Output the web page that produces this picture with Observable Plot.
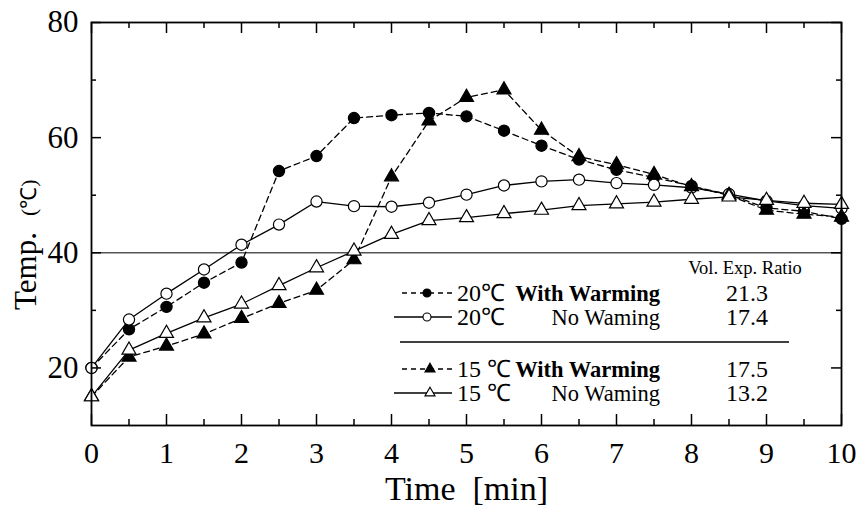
<!DOCTYPE html>
<html>
<head>
<meta charset="utf-8">
<script src="https://cdn.jsdelivr.net/npm/d3@7"></script>
<script src="https://cdn.jsdelivr.net/npm/@observablehq/plot@0.6"></script>
<style>
  html, body { margin: 0; padding: 0; background: #fff; }
  #chart { width: 859px; height: 518px; }
</style>
</head>
<body>
<div id="chart"></div>
<script>
// ---- data ----
const time = [0, 0.5, 1, 1.5, 2, 2.5, 3, 3.5, 4, 4.5, 5, 5.5, 6, 6.5, 7, 7.5, 8, 8.5, 9, 9.5, 10];
const warm20 = [20, 26.7, 30.6, 34.8, 38.3, 54.2, 56.8, 63.4, 63.9, 64.3, 63.7, 61.2, 58.6, 56.2, 54.4, 53.1, 51.6, 50.1, 47.8, 47.2, 45.9];
const noWarm20 = [20, 28.4, 32.9, 37.1, 41.4, 44.9, 48.9, 48.1, 48.0, 48.7, 50.1, 51.7, 52.4, 52.7, 52.1, 51.8, 51.3, 50.2, 49.0, 48.2, 47.7];
const warm15 = [15, 21.9, 23.8, 25.9, 28.6, 31.2, 33.5, 38.8, 53.2, 62.9, 67.0, 68.3, 61.3, 56.7, 55.3, 53.6, 51.5, 50.0, 47.4, 46.7, 46.2];
const noWarm15 = [15, 23.1, 26.0, 28.7, 31.1, 34.3, 37.4, 40.3, 43.2, 45.6, 46.1, 46.8, 47.4, 48.2, 48.5, 48.8, 49.3, 49.7, 49.1, 48.6, 48.4];

const xMajorTicks = [0, 1, 2, 3, 4, 5, 6, 7, 8, 9, 10];
const xMinorTicks = [0.5, 1.5, 2.5, 3.5, 4.5, 5.5, 6.5, 7.5, 8.5, 9.5];
const yMajorTicks = [20, 40, 60, 80];
const yMinorTicks = [30, 50, 70];
const refLine = [40];

const seriesNames = ["20℃ With Warming", "20℃ No Waming", "15℃ With Warming", "15℃ No Waming"];
const legendTemps = ["20℃", "20℃", "15 ℃", "15 ℃"];
const legendConds = ["With Warming", "No Waming", "With Warming", "No Waming"];
const volExpRatio = ["21.3", "17.4", "17.5", "13.2"];

// ---- build table ----
const seriesDefs = [
  {name: seriesNames[0], values: warm20, symbol: "circle", fill: "black", dash: "6,4"},
  {name: seriesNames[1], values: noWarm20, symbol: "circle", fill: "white", dash: null},
  {name: seriesNames[2], values: warm15, symbol: "triangle", fill: "black", dash: "6,4"},
  {name: seriesNames[3], values: noWarm15, symbol: "triangle", fill: "white", dash: null}
];
const rows = (s) => time.map((t, i) => ({t, v: s.values[i]}));

const W = 859, H = 518;
const mL = 91, mR = 18, mT = 22, mB = 93;
const FW = W - mL - mR, FH = H - mT - mB;
const font = "'Liberation Serif', 'Times New Roman', serif";

const marks = [
  Plot.ruleY(refLine, {y: d => d, stroke: "#555", strokeWidth: 1.6}),
];
for (const s of seriesDefs) {
  marks.push(Plot.line(rows(s), {x: "t", y: "v", stroke: "black", strokeWidth: 1.3, strokeDasharray: s.dash}));
}
for (const s of seriesDefs) {
  marks.push(Plot.dot(rows(s), {x: "t", y: "v", symbol: () => s.symbol, r: s.symbol === "circle" ? 5.6 : 5.2,
    fill: s.fill, stroke: "black", strokeWidth: 1.2}));
}
// ticks (inward)
marks.push(
  Plot.ruleX(xMajorTicks, {x: d => d, insetTop: FH - 11, stroke: "black", strokeWidth: 1.5}),
  Plot.ruleX(xMinorTicks, {x: d => d, insetTop: FH - 6, stroke: "black", strokeWidth: 1.5}),
  Plot.ruleX(xMajorTicks, {x: d => d, insetBottom: FH - 11, stroke: "black", strokeWidth: 1.5}),
  Plot.ruleX(xMinorTicks, {x: d => d, insetBottom: FH - 6, stroke: "black", strokeWidth: 1.5}),
  Plot.ruleY(yMajorTicks, {y: d => d, insetRight: FW - 10, stroke: "black", strokeWidth: 1.5}),
  Plot.ruleY(yMinorTicks, {y: d => d, insetRight: FW - 5, stroke: "black", strokeWidth: 1.5}),
  Plot.ruleY(yMajorTicks, {y: d => d, insetLeft: FW - 10, stroke: "black", strokeWidth: 1.5}),
  Plot.ruleY(yMinorTicks, {y: d => d, insetLeft: FW - 5, stroke: "black", strokeWidth: 1.5}),
  Plot.frame({stroke: "black", strokeWidth: 1.8}),
  // tick labels
  Plot.text(xMajorTicks, {x: d => d, frameAnchor: "bottom", dy: 37, text: d => String(d), fontSize: 30, fill: "black"}),
  Plot.text(yMajorTicks, {y: d => d, frameAnchor: "left", dx: -13, textAnchor: "end", text: d => String(d), fontSize: 31, fill: "black"}),
  // x axis label
  Plot.text(["Time\u00a0\u00a0[min]"], {frameAnchor: "bottom", dy: 74, text: d => d, fontSize: 34, fill: "black"})
);

const chart = Plot.plot({
  width: W, height: H,
  marginLeft: mL, marginRight: mR, marginTop: mT, marginBottom: mB,
  style: {fontFamily: font, background: "white", overflow: "visible"},
  x: {domain: [0, 10], axis: null},
  y: {domain: [10, 80], axis: null},
  marks
});
document.getElementById("chart").appendChild(chart);

// ---- y axis label (mixed sizes) ----
const svg = d3.select(chart);
const yl = svg.append("text")
  .attr("transform", "translate(36,310) rotate(-90)")
  .attr("text-anchor", "start")
  .attr("font-family", font).attr("fill", "black");
yl.append("tspan").attr("font-size", 31).text("Temp.");
yl.append("tspan").attr("font-size", 22).attr("dx", 16).text("(℃)");

// ---- legend ----
const lg = svg.append("g").attr("font-family", font).attr("fill", "black").attr("text-anchor", "start");
const rowY = [293, 317, 369, 393];
lg.append("text").attr("x", 745).attr("y", 268).attr("dy", "0.35em")
  .attr("text-anchor", "middle").attr("font-size", 18.5).text("Vol. Exp. Ratio");
lg.append("line").attr("x1", 400).attr("x2", 789).attr("y1", 342).attr("y2", 342)
  .attr("stroke", "black").attr("stroke-width", 1.5);
seriesDefs.forEach((s, i) => {
  const y = rowY[i];
  const dashed = !!s.dash;
  lg.append("line").attr("x1", dashed ? 402 : 394).attr("x2", 452)
    .attr("y1", y).attr("y2", y).attr("stroke", "black").attr("stroke-width", 1.3)
    .attr("stroke-dasharray", dashed ? "5,4" : null);
  const mx = s.symbol === "circle" ? 427 : 430;
  const sym = d3.symbol().type(s.symbol === "circle" ? d3.symbolCircle : d3.symbolTriangle)
    .size(s.symbol === "circle" ? Math.PI * 16 : Math.PI * 14);
  lg.append("path").attr("d", sym()).attr("transform", `translate(${mx},${y})`)
    .attr("fill", s.fill).attr("stroke", "black").attr("stroke-width", 1.1);
  lg.append("text").attr("x", 457).attr("y", y).attr("dy", "0.35em").attr("font-size", 24)
    .attr("text-anchor", "start").text(legendTemps[i]);
  lg.append("text").attr("x", 660).attr("y", y).attr("dy", "0.35em").attr("font-size", 22.5)
    .attr("text-anchor", "end").attr("font-weight", i % 2 === 0 ? "bold" : "normal")
    .text(legendConds[i]);
  lg.append("text").attr("x", 747).attr("y", y).attr("dy", "0.35em").attr("font-size", 24)
    .attr("text-anchor", "middle").text(volExpRatio[i]);
});
</script>
</body>
</html>
